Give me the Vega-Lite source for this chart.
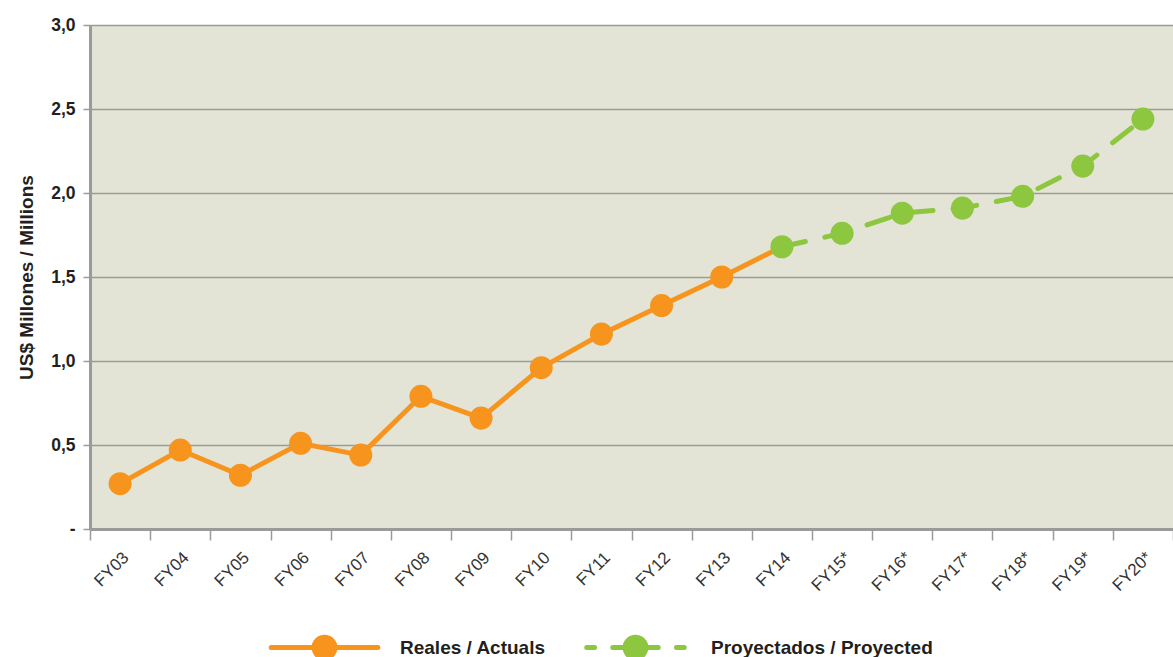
{
  "$schema": "https://vega.github.io/schema/vega-lite/v6.json",
  "width": 1083,
  "height": 504,
  "autosize": {"type": "none"},
  "padding": {"left": 90, "top": 25, "right": 0, "bottom": 128},
  "background": "white",
  "config": {
    "view": {"fill": "#E4E4D6", "stroke": null},
    "font": "Liberation Sans"
  },
  "data": {
    "values": [
      {"year": "FY03", "value": 0.27, "series": "Reales / Actuals"},
      {"year": "FY04", "value": 0.47, "series": "Reales / Actuals"},
      {"year": "FY05", "value": 0.32, "series": "Reales / Actuals"},
      {"year": "FY06", "value": 0.51, "series": "Reales / Actuals"},
      {"year": "FY07", "value": 0.44, "series": "Reales / Actuals"},
      {"year": "FY08", "value": 0.79, "series": "Reales / Actuals"},
      {"year": "FY09", "value": 0.66, "series": "Reales / Actuals"},
      {"year": "FY10", "value": 0.96, "series": "Reales / Actuals"},
      {"year": "FY11", "value": 1.16, "series": "Reales / Actuals"},
      {"year": "FY12", "value": 1.33, "series": "Reales / Actuals"},
      {"year": "FY13", "value": 1.5, "series": "Reales / Actuals"},
      {"year": "FY14", "value": 1.68, "series": "Reales / Actuals"},
      {"year": "FY14", "value": 1.68, "series": "Proyectados / Proyected"},
      {"year": "FY15*", "value": 1.76, "series": "Proyectados / Proyected"},
      {"year": "FY16*", "value": 1.88, "series": "Proyectados / Proyected"},
      {"year": "FY17*", "value": 1.91, "series": "Proyectados / Proyected"},
      {"year": "FY18*", "value": 1.98, "series": "Proyectados / Proyected"},
      {"year": "FY19*", "value": 2.16, "series": "Proyectados / Proyected"},
      {"year": "FY20*", "value": 2.44, "series": "Proyectados / Proyected"}
    ]
  },
  "encoding": {
    "x": {
      "field": "year",
      "type": "ordinal",
      "sort": null,
      "scale": {"type": "band", "paddingInner": 0, "paddingOuter": 0},
      "axis": {
        "title": null,
        "labelAngle": -45,
        "labelFontSize": 17,
        "labelColor": "#333333",
        "labelPadding": 9,
        "tickBand": "extent",
        "tickSize": 11,
        "tickColor": "#9a9a9a",
        "tickWidth": 1.5,
        "domainColor": "#9a9a9a",
        "domainWidth": 3,
        "grid": false
      }
    },
    "y": {
      "field": "value",
      "type": "quantitative",
      "scale": {"domain": [0, 3], "nice": false, "zero": true},
      "axis": {
        "values": [0, 0.5, 1, 1.5, 2, 2.5, 3],
        "labelExpr": "datum.value == 0 ? '-' : replace(format(datum.value, '.1f'), '.', ',')",
        "labelFontSize": 17.5,
        "labelFontWeight": "bold",
        "labelColor": "#231f20",
        "labelPadding": 8,
        "tickSize": 7,
        "tickColor": "#9a9a9a",
        "tickWidth": 1.5,
        "domainColor": "#9a9a9a",
        "domainWidth": 3,
        "grid": true,
        "gridColor": "#9a9a9a",
        "gridWidth": 1.5,
        "title": "US$ Millones / Millions",
        "titleFontSize": 19,
        "titleFontWeight": "bold",
        "titleColor": "#231f20",
        "titlePadding": 14
      }
    },
    "color": {
      "field": "series",
      "type": "nominal",
      "scale": {
        "domain": ["Reales / Actuals", "Proyectados / Proyected"],
        "range": ["#F7941D", "#8DC63F"]
      },
      "legend": {
        "title": null,
        "orient": "none",
        "direction": "horizontal",
        "legendX": 219,
        "legendY": 607,
        "symbolType": "M-4.1,0L4.1,0M0.8,0A0.8,0.8,0,1,1,-0.8,0A0.8,0.8,0,1,1,0.8,0Z",
        "symbolSize": 676,
        "symbolStrokeWidth": 5,
        "labelFontSize": 19,
        "labelFontWeight": "bold",
        "labelColor": "#231f20",
        "labelLimit": 400,
        "labelOffset": 60,
        "columnPadding": 30,
        "encode": {
          "symbols": {
            "update": {
              "fill": {"scale": "color", "field": "value"},
              "stroke": {"scale": "color", "field": "value"},
              "opacity": {"value": 1},
              "strokeCap": {"value": "round"},
              "shape": {"signal": "datum.value === 'Proyectados / Proyected' ? 'M-3.75,0L-3.15,0M-1.75,0L-0.8,0M0.8,0L1.75,0M3.15,0L3.75,0M0.8,0A0.8,0.8,0,1,1,-0.8,0A0.8,0.8,0,1,1,0.8,0Z' : 'M-4.1,0L4.1,0M0.8,0A0.8,0.8,0,1,1,-0.8,0A0.8,0.8,0,1,1,0.8,0Z'"}
            }
          }
        }
      }
    }
  },
  "layer": [
    {
      "transform": [{"filter": "datum.series === 'Reales / Actuals'"}],
      "mark": {"type": "line", "strokeWidth": 5}
    },
    {
      "transform": [{"filter": "datum.series === 'Proyectados / Proyected'"}],
      "mark": {"type": "line", "strokeWidth": 5, "strokeDash": [24, 20], "strokeCap": "round"}
    },
    {
      "transform": [{"filter": "!(datum.year === 'FY14' && datum.series === 'Reales / Actuals')"}],
      "mark": {"type": "point", "filled": true, "size": 530, "opacity": 1, "shape": "circle"}
    }
  ]
}
